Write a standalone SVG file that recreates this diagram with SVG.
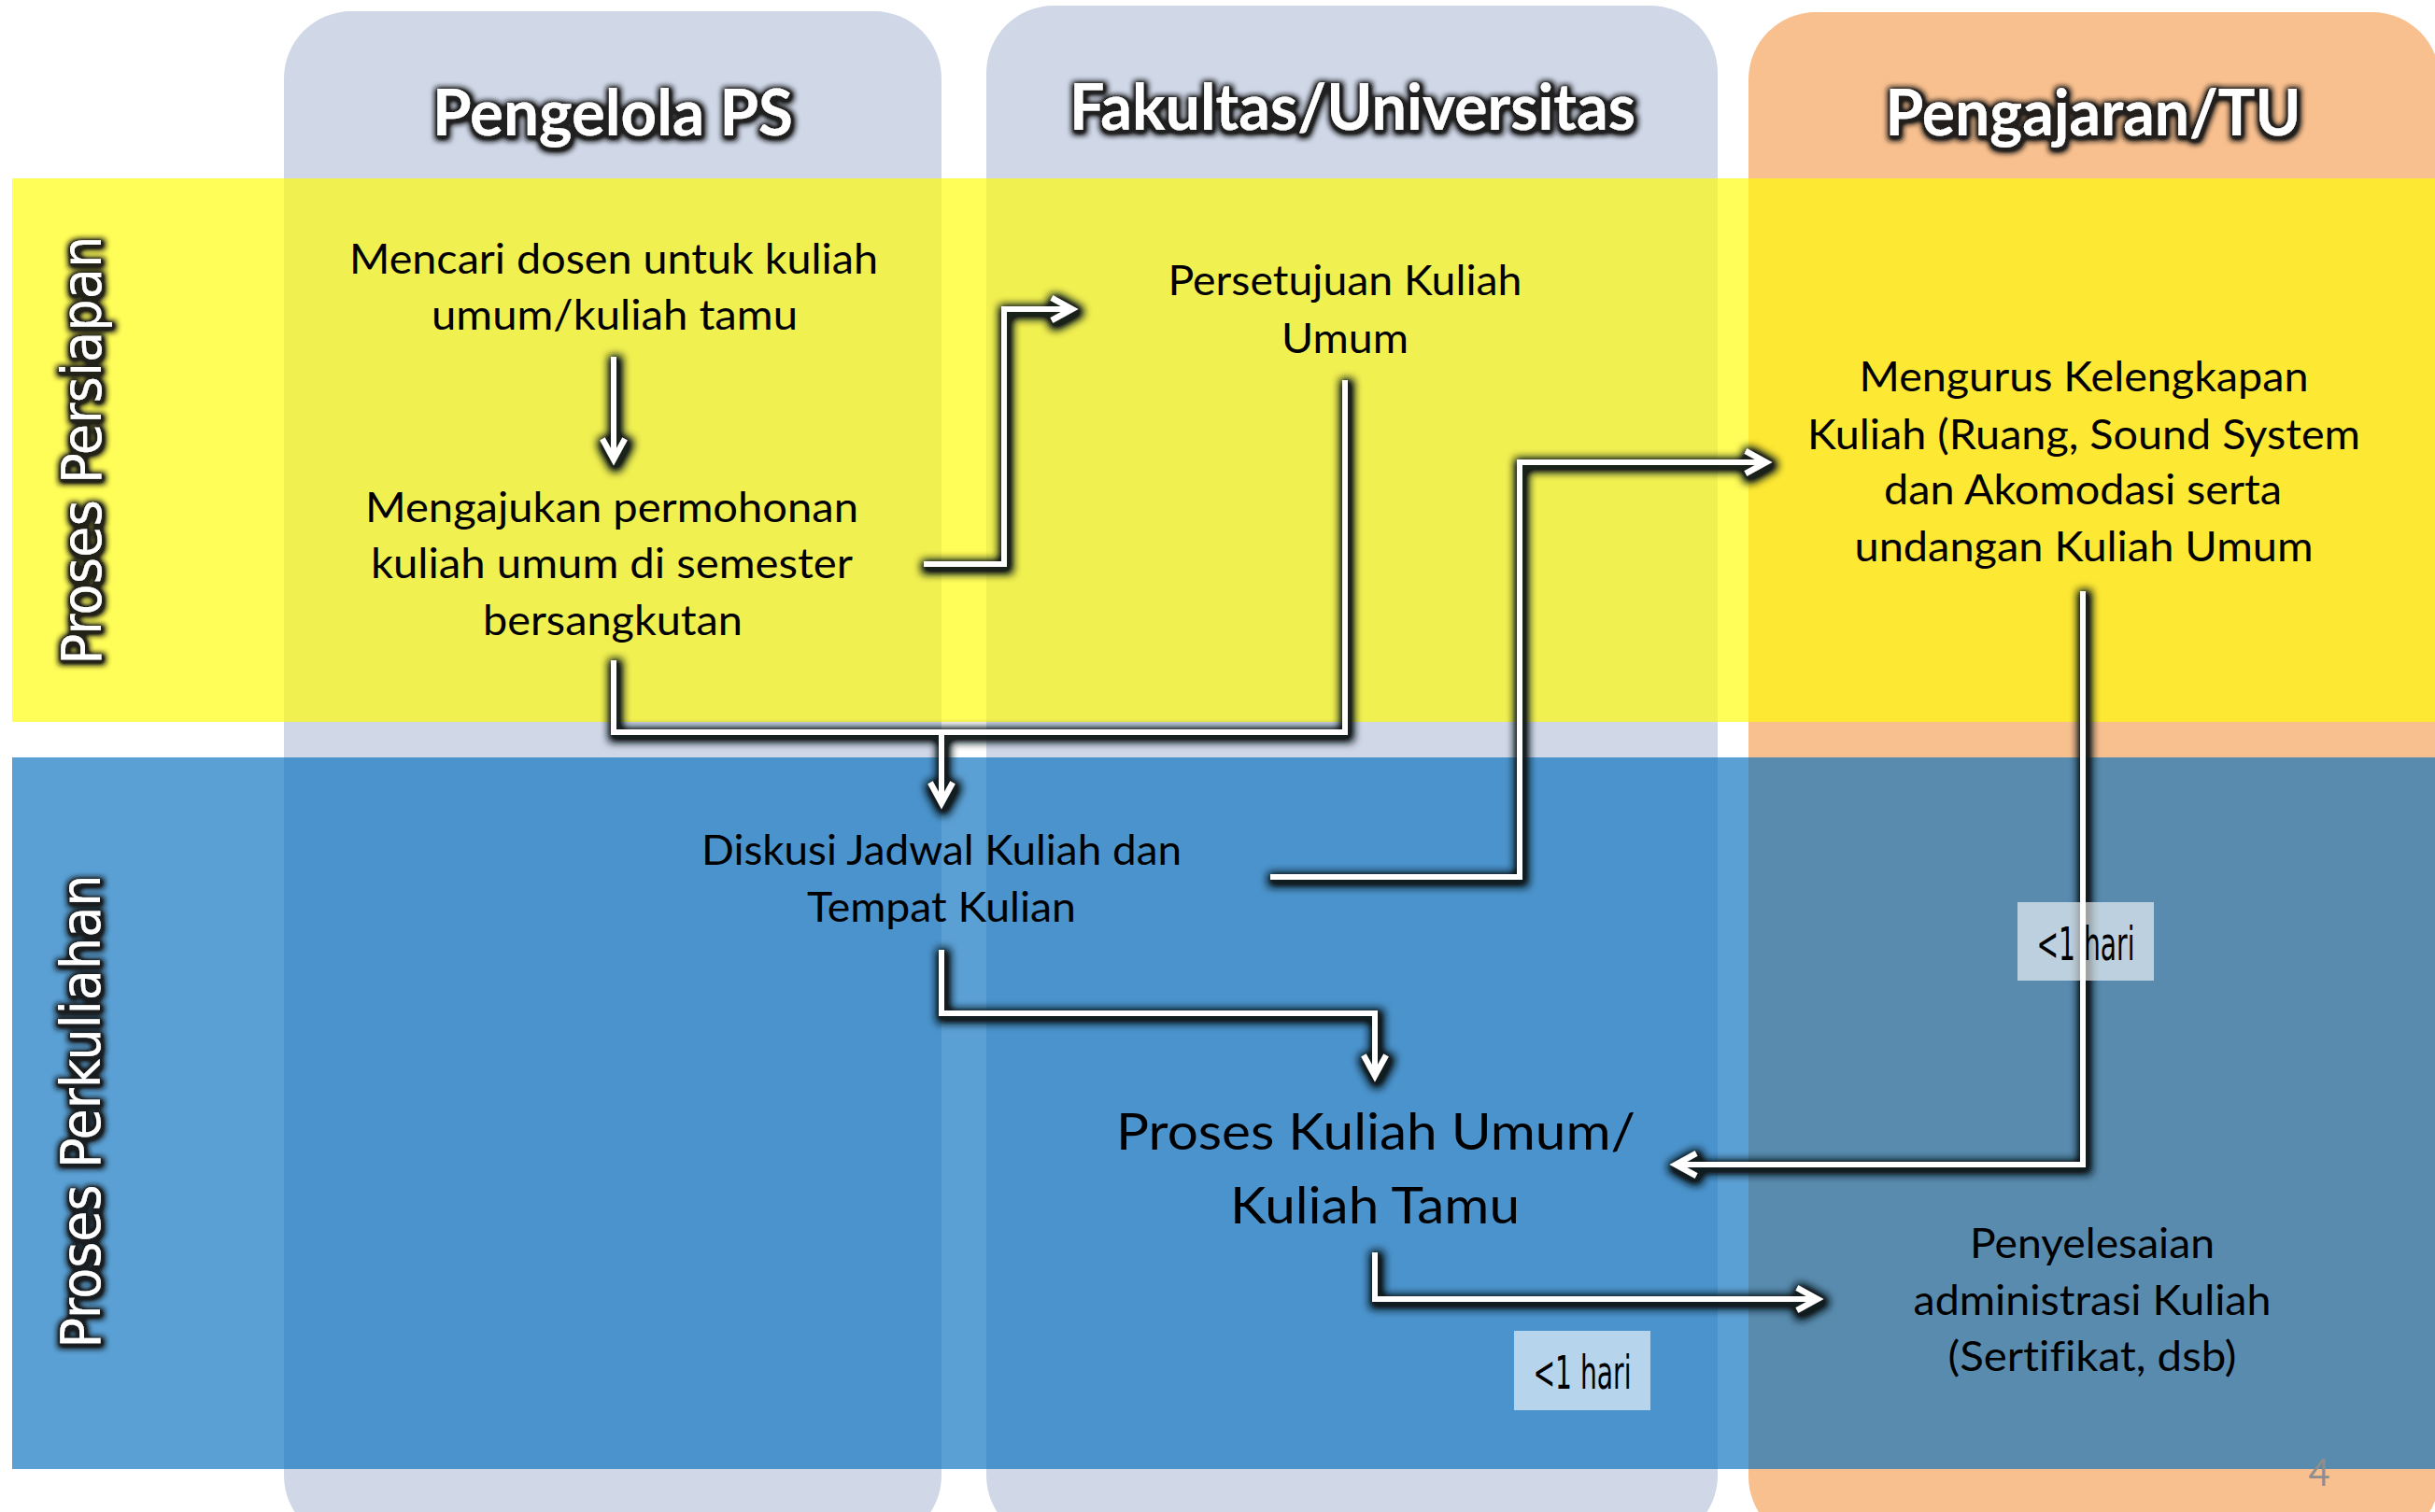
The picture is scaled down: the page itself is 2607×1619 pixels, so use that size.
<svg xmlns="http://www.w3.org/2000/svg" width="2607" height="1619" viewBox="0 0 2607 1619">
<defs>
<style>
.col-l{fill:#d0d8e8}
.col-o{fill:#f9c08f}
.band-y{fill:#fffc06;fill-opacity:0.67}
.band-b{fill:#056fbe;fill-opacity:0.66}
.hdr{font-family:Lato,"Open Sans","Liberation Sans",sans-serif;font-weight:bold;font-size:69px;fill:#fff;text-anchor:middle}
.row{font-family:"DejaVu Sans","Liberation Sans",sans-serif;font-size:58px;fill:#fff;text-anchor:middle}
.t{font-family:Lato,"Open Sans","Liberation Sans",sans-serif;font-size:44px;fill:#000;text-anchor:middle;font-variant-ligatures:none}
.tb{font-family:Lato,"Open Sans","Liberation Sans",sans-serif;font-size:54px;fill:#000;text-anchor:middle}
.lbl{font-family:"DejaVu Sans Condensed","Liberation Sans Narrow","Liberation Sans",sans-serif;font-size:50px;fill:#000;text-anchor:middle}
.lblbox{fill:#fff;fill-opacity:0.6}
.conn{fill:none;stroke:#fff;stroke-width:6;stroke-linejoin:miter}
.pg{font-family:Lato,"Liberation Sans",sans-serif;font-size:40px;fill:#8e8e8e;text-anchor:middle}
</style>
<filter id="glow" filterUnits="userSpaceOnUse" x="0" y="0" width="2607" height="1619">
<feMorphology in="SourceAlpha" operator="dilate" radius="4" result="d"/>
<feGaussianBlur in="d" stdDeviation="5" result="b"/>
<feOffset in="b" dx="2" dy="3" result="o"/>
<feComponentTransfer in="o" result="o2"><feFuncA type="linear" slope="1.4"/></feComponentTransfer>
<feFlood flood-color="#0a1418" flood-opacity="0.95"/>
<feComposite in2="o2" operator="in" result="s"/>
<feMerge><feMergeNode in="s"/><feMergeNode in="SourceGraphic"/></feMerge>
</filter>
<filter id="tglow" filterUnits="userSpaceOnUse" x="0" y="0" width="2607" height="1619">
<feMorphology in="SourceAlpha" operator="dilate" radius="3" result="d"/>
<feGaussianBlur in="d" stdDeviation="3" result="b"/>
<feOffset in="b" dx="1" dy="2" result="o"/>
<feComponentTransfer in="o" result="o2"><feFuncA type="linear" slope="1.5"/></feComponentTransfer>
<feFlood flood-color="#141414" flood-opacity="0.95"/>
<feComposite in2="o2" operator="in" result="s"/>
<feMerge><feMergeNode in="s"/><feMergeNode in="SourceGraphic"/></feMerge>
</filter>
<marker id="arr" markerUnits="userSpaceOnUse" markerWidth="60" markerHeight="60" viewBox="-30 -30 60 60" refX="0" refY="0" orient="auto" overflow="visible">
<path d="M-22,-12 L0,0 L-22,12" fill="none" stroke="#fff" stroke-width="6" stroke-linejoin="miter"/>
</marker>
</defs>

<g id="columns">
<rect id="col-pengelola" class="col-l" x="304" y="12" width="704" height="1640" rx="72" ry="72"/>
<rect id="col-fakultas" class="col-l" x="1056" y="6" width="783" height="1646" rx="72" ry="72"/>
<rect id="col-pengajaran" class="col-o" x="1872" y="13" width="740" height="1640" rx="72" ry="72"/>
</g>

<g id="bands">
<rect id="band-persiapan" class="band-y" x="13" y="191" width="2600" height="582"/>
<rect id="band-perkuliahan" class="band-b" x="13" y="811" width="2600" height="762"/>
</g>

<g id="headers" filter="url(#tglow)">
<text class="hdr" x="656" y="145" textLength="386" lengthAdjust="spacingAndGlyphs">Pengelola PS</text>
<text class="hdr" x="1448" y="139" textLength="606" lengthAdjust="spacingAndGlyphs">Fakultas/Universitas</text>
<text class="hdr" x="2241" y="145" textLength="445" lengthAdjust="spacingAndGlyphs">Pengajaran/TU</text>
</g>

<g id="row-labels" filter="url(#tglow)">
<text class="row" transform="translate(108,482) rotate(-90)" textLength="459" lengthAdjust="spacingAndGlyphs">Proses Persiapan</text>
<text class="row" transform="translate(107,1190) rotate(-90)" textLength="507" lengthAdjust="spacingAndGlyphs">Proses Perkuliahan</text>
</g>

<g id="connectors" filter="url(#glow)">
<path class="conn" d="M657,382 V492" marker-end="url(#arr)"/>
<path class="conn" d="M989,604 H1075 V331 H1148" marker-end="url(#arr)"/>
<path class="conn" d="M657,707 V784 H1440 V407"/>
<path class="conn" d="M1008,784 V860" marker-end="url(#arr)"/>
<path class="conn" d="M1360,939 H1627 V495 H1891" marker-end="url(#arr)"/>
<path class="conn" d="M1008,1017 V1085 H1472 V1152" marker-end="url(#arr)"/>
<path class="conn" d="M2230,633 V1247 H1794" marker-end="url(#arr)"/>
<path class="conn" d="M1472,1341 V1391 H1946" marker-end="url(#arr)"/>
</g>

<g id="node-mencari">
<text class="t" x="657" y="293" textLength="566" lengthAdjust="spacingAndGlyphs">Mencari dosen untuk kuliah</text>
<text class="t" x="658" y="353" textLength="392" lengthAdjust="spacingAndGlyphs">umum/kuliah tamu</text>
</g>
<g id="node-mengajukan">
<text class="t" x="655" y="559" textLength="528" lengthAdjust="spacingAndGlyphs">Mengajukan permohonan</text>
<text class="t" x="655" y="619" textLength="516" lengthAdjust="spacingAndGlyphs">kuliah umum di semester</text>
<text class="t" x="656" y="680" textLength="278" lengthAdjust="spacingAndGlyphs">bersangkutan</text>
</g>
<g id="node-persetujuan">
<text class="t" x="1440" y="316" textLength="379" lengthAdjust="spacingAndGlyphs">Persetujuan Kuliah</text>
<text class="t" x="1440" y="378" textLength="136" lengthAdjust="spacingAndGlyphs">Umum</text>
</g>
<g id="node-mengurus">
<text class="t" x="2231" y="419" textLength="481" lengthAdjust="spacingAndGlyphs">Mengurus Kelengkapan</text>
<text class="t" x="2231" y="481" textLength="592" lengthAdjust="spacingAndGlyphs">Kuliah (Ruang, Sound System</text>
<text class="t" x="2230" y="540" textLength="426" lengthAdjust="spacingAndGlyphs">dan Akomodasi serta</text>
<text class="t" x="2231" y="601" textLength="491" lengthAdjust="spacingAndGlyphs">undangan Kuliah Umum</text>
</g>
<g id="node-diskusi">
<text class="t" x="1008" y="926" textLength="514" lengthAdjust="spacingAndGlyphs">Diskusi Jadwal Kuliah dan</text>
<text class="t" x="1008" y="987" textLength="288" lengthAdjust="spacingAndGlyphs">Tempat Kulian</text>
</g>
<g id="node-proses">
<text class="tb" x="1473" y="1231" textLength="556" lengthAdjust="spacingAndGlyphs">Proses Kuliah Umum/</text>
<text class="tb" x="1472" y="1310" textLength="310" lengthAdjust="spacingAndGlyphs">Kuliah Tamu</text>
</g>
<g id="node-penyelesaian">
<text class="t" x="2240" y="1347" textLength="262" lengthAdjust="spacingAndGlyphs">Penyelesaian</text>
<text class="t" x="2240" y="1408" textLength="383" lengthAdjust="spacingAndGlyphs">administrasi Kuliah</text>
<text class="t" x="2240" y="1468" textLength="309" lengthAdjust="spacingAndGlyphs">(Sertifikat, dsb)</text>
</g>

<g id="label-hari-1">
<rect class="lblbox" x="2160" y="966" width="146" height="84"/>
<text class="lbl" x="2233" y="1028" textLength="105" lengthAdjust="spacingAndGlyphs">&lt;1 hari</text>
</g>
<g id="label-hari-2">
<rect class="lblbox" x="1621" y="1425" width="146" height="85"/>
<text class="lbl" x="1694" y="1487" textLength="105" lengthAdjust="spacingAndGlyphs">&lt;1 hari</text>
</g>

<text class="pg" x="2483" y="1591">4</text>
</svg>
